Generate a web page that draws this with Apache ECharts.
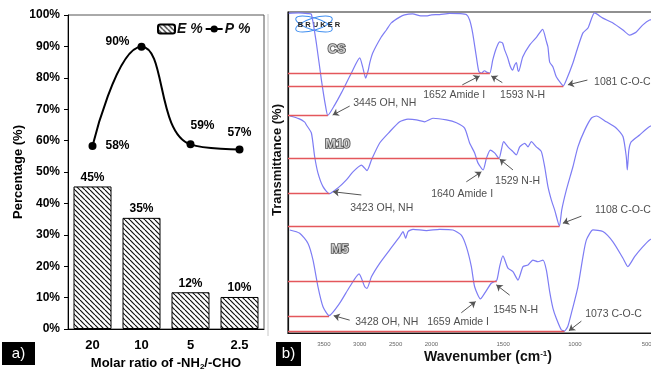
<!DOCTYPE html>
<html>
<head>
<meta charset="utf-8">
<script src="https://cdn.jsdelivr.net/npm/echarts@6/dist/echarts.min.js"></script>
<style>
  html, body { margin: 0; padding: 0; background: #fff; }
  #chart { width: 651px; height: 369px; }
</style>
</head>
<body>
<div id="chart"></div>
<script>
// panel a) yield bars and line
const ratios = ['20', '10', '5', '2.5'];
const ePercent = [45.4, 35.4, 11.7, 10.2];
const pPercent = [58.3, 89.9, 58.8, 57.2];

// panel b) FTIR spectra, [wavenumber, transmittance]
const wnTicks = [3500, 3000, 2500, 2000, 1500, 1000, 500];

const csSpectrum = [
  [3990, 99.6], [3850, 99.7], [3720, 99.5], [3674, 99.3], [3604, 90.2], [3534, 78.8],
  [3475, 70.5], [3445, 67.8], [3350, 71.0], [3256, 74.8], [3116, 81.0], [3000, 85.7],
  [2960, 83.0], [2917, 79.4], [2880, 82.0], [2861, 84.1], [2819, 87.2], [2700, 92.2],
  [2628, 94.4], [2560, 96.6], [2443, 98.4], [2375, 99.1], [2262, 99.4], [2150, 98.8],
  [2071, 98.8], [2000, 99.1], [1943, 99.2], [1873, 99.6], [1800, 99.5], [1757, 99.2],
  [1734, 97.5], [1713, 93.5], [1687, 86.0], [1670, 81.5], [1652, 80.9], [1630, 81.7],
  [1612, 81.2], [1593, 81.0], [1573, 85.0], [1550, 88.5], [1525, 90.7], [1504, 90.3],
  [1490, 88.2], [1469, 85.8], [1450, 83.0], [1434, 81.9], [1420, 83.5], [1408, 84.2],
  [1398, 82.0], [1392, 81.5], [1364, 86.0], [1316, 89.7], [1267, 92.2], [1225, 94.6],
  [1200, 91.0], [1188, 89.1], [1176, 84.4], [1153, 82.9], [1130, 79.8], [1095, 77.6],
  [1081, 77.0], [1060, 78.8], [1014, 84.1], [979, 89.1], [944, 93.5], [909, 95.0],
  [863, 99.7], [805, 98.1], [735, 96.6], [665, 94.4], [619, 92.8], [572, 93.8],
  [526, 96.0], [479, 97.5], [400, 98.5]
];
const m10Spectrum = [
  [3976, 67.6], [3850, 66.8], [3767, 65.7], [3743, 64.8], [3674, 62.3], [3628, 54.9],
  [3582, 49.8], [3512, 45.6], [3423, 43.4], [3303, 45.2], [3186, 47.7], [3094, 50.2],
  [2977, 52.3], [2899, 50.6], [2837, 53.9], [2722, 59.2], [2582, 62.7], [2443, 65.8],
  [2327, 66.6], [2210, 66.4], [2094, 65.8], [1990, 66.9], [1896, 66.4], [1826, 65.5],
  [1769, 63.8], [1734, 59.2], [1699, 56.1], [1676, 53.0], [1640, 50.8], [1617, 54.4],
  [1590, 57.0], [1560, 56.1], [1529, 54.4], [1513, 57.0], [1497, 59.6], [1467, 58.0],
  [1432, 56.5], [1408, 55.5], [1385, 58.0], [1350, 59.1], [1327, 58.0], [1304, 59.6],
  [1269, 58.0], [1234, 56.5], [1211, 51.8], [1188, 45.6], [1164, 41.4], [1141, 38.3],
  [1108, 33.3], [1092, 38.3], [1060, 44.5], [1014, 51.8], [979, 58.0], [932, 63.2],
  [886, 66.9], [851, 67.6], [781, 65.8], [711, 63.8], [665, 61.2], [642, 54.9],
  [635, 50.8], [624, 57.0], [607, 59.6], [549, 61.7], [479, 64.3], [400, 65.5]
];
const m5Spectrum = [
  [3976, 32.1], [3837, 31.1], [3721, 27.9], [3651, 22.7], [3582, 14.4], [3512, 8.2],
  [3428, 5.4], [3279, 9.3], [3140, 14.4], [3010, 18.4], [2930, 14.4], [2899, 13.9],
  [2837, 17.5], [2722, 21.7], [2582, 25.9], [2443, 30.0], [2397, 31.6], [2359, 29.5],
  [2327, 31.6], [2257, 32.3], [2071, 31.9], [1943, 32.3], [1850, 32.1], [1792, 30.5],
  [1757, 26.9], [1722, 20.7], [1699, 14.4], [1659, 10.6], [1629, 12.4], [1583, 15.5],
  [1545, 16.4], [1525, 20.7], [1502, 24.0], [1467, 20.2], [1432, 19.1], [1397, 16.5],
  [1362, 20.7], [1327, 21.2], [1293, 22.7], [1258, 22.2], [1223, 22.7], [1199, 19.6],
  [1176, 12.9], [1153, 7.7], [1130, 4.6], [1095, 1.0], [1073, 0.6], [1050, 2.0],
  [1025, 6.1], [979, 14.4], [944, 23.8], [920, 29.0], [874, 32.1], [805, 31.6],
  [735, 28.4], [665, 23.3], [631, 20.7], [584, 23.8], [526, 26.9], [479, 29.0], [400, 30.5]
];

// red guide lines: [transmittance, wavenumber where it stops]
const csBaselines = [[81.0, 1593], [77.0, 1081], [67.8, 3445]];
const m10Baselines = [[54.4, 1529], [43.4, 3423], [33.3, 1108]];
const m5Baselines = [[16.2, 1545], [5.3, 3428], [0.6, 1073]];

// peak notes: text, label anchor (w, T), arrow tail (w, T), arrow head (w, T)
const peakNotes = [
  ['3445 OH, NH', 3098, 71.7, 3140, 70.7, 3377, 67.9],
  ['1652 Amide I', 2122, 74.0, 1785, 77.3, 1664, 80.1],
  ['1593 N-H', 1525, 74.0, 1506, 78.0, 1583, 80.1],
  ['1081 C-O-C', 870, 78.2, 913, 78.8, 1049, 77.3],
  ['3423 OH, NH', 3140, 38.9, 2977, 43.0, 3373, 44.0],
  ['1640 Amide I', 2011, 43.3, 1757, 47.1, 1652, 50.2],
  ['1529 N-H', 1560, 47.4, 1432, 50.8, 1525, 54.2],
  ['1108 C-O-C', 863, 38.3, 955, 36.4, 1084, 34.2],
  ['3428 OH, NH', 3070, 3.4, 3140, 4.0, 3363, 5.4],
  ['1659 Amide I', 2067, 3.4, 1792, 6.3, 1692, 9.8],
  ['1545 N-H', 1573, 7.2, 1455, 11.8, 1548, 15.0],
  ['1073 C-O-C', 932, 5.9, 955, 3.7, 1042, 0.7]
];
const sampleNames = [['CS', 3321, 88.2], ['M10', 3307, 58.6], ['M5', 3279, 25.9]];

// the spectrum axis is compressed by 2 above 2000 cm-1
function toU(w) { return w > 2000 ? 2000 + (w - 2000) / 2 : w; }
function fromU(u) { return u > 2000 ? 2000 + (u - 2000) * 2 : u; }

function hatch() {
  const c = document.createElement('canvas');
  c.width = 5; c.height = 5;
  const g = c.getContext('2d');
  g.fillStyle = '#fff';
  g.fillRect(0, 0, 5, 5);
  g.strokeStyle = '#111';
  g.lineWidth = 1.2;
  [-5, 0, 5].forEach(k => {
    g.beginPath(); g.moveTo(k, 0); g.lineTo(k + 5, 5); g.stroke();
  });
  return c;
}

const FONT = 'Liberation Sans';
const BLUE = '#7d7cf4';
const RED = '#e4575c';

function spectrumSeries(name, data, baselines) {
  return {
    name: name,
    type: 'line',
    xAxisIndex: 1,
    yAxisIndex: 1,
    data: data.map(p => [toU(p[0]), p[1]]),
    smooth: 0.2,
    symbol: 'none',
    silent: true,
    lineStyle: { color: BLUE, width: 1.2 },
    markLine: {
      silent: true,
      symbol: ['none', 'none'],
      label: { show: false },
      lineStyle: { color: RED, width: 1.4, type: 'solid' },
      data: baselines.map(b => [{ coord: [toU(4000), b[0]] }, { coord: [toU(b[1]), b[0]] }])
    }
  };
}

const pLabels = [
  { position: 'right', distance: 9 },
  { position: 'left', distance: 8, offset: [0, -5] },
  { position: 'top', distance: 9, offset: [12, 0] },
  { position: 'top', distance: 7 }
];

const chart = echarts.init(document.getElementById('chart'));
chart.setOption({
  animation: false,
  textStyle: { fontFamily: FONT },
  legend: {
    data: ['E %', 'P %'],
    left: 157,
    top: 22,
    padding: 0,
    itemGap: 2,
    itemWidth: 17,
    itemHeight: 9,
    selectedMode: false,
    textStyle: { fontFamily: FONT, fontWeight: 'bold', fontStyle: 'italic', fontSize: 14, color: '#111', padding: [0, 0, 0, -3] }
  },
  grid: [
    { left: 68, top: 15, width: 196, height: 314, show: true, borderColor: '#555', borderWidth: 1, outerBoundsMode: 'none' },
    { left: 288, top: 12, width: 373, height: 321, show: true, borderColor: '#222', borderWidth: 1.2, outerBoundsMode: 'none' }
  ],
  xAxis: [
    {
      gridIndex: 0,
      type: 'category',
      data: ratios,
      axisLine: { lineStyle: { color: '#000', width: 1 } },
      axisTick: { show: false },
      axisLabel: { fontFamily: FONT, fontWeight: 'bold', fontSize: 13, color: '#000', margin: 10 },
      name: 'Molar ratio of -NH{sub|2}/-CHO',
      nameLocation: 'middle',
      nameGap: 27,
      nameTextStyle: {
        fontFamily: FONT, fontWeight: 'bold', fontSize: 13, color: '#000',
        rich: { sub: { fontFamily: FONT, fontWeight: 'bold', fontSize: 8, verticalAlign: 'bottom', padding: [6, 0, 0, 0] } }
      }
    },
    {
      gridIndex: 1,
      type: 'value',
      min: 400,
      max: 3000,
      inverse: true,
      axisLine: { lineStyle: { color: '#111', width: 1.2 } },
      axisTick: { show: false },
      splitLine: { show: false },
      axisLabel: {
        customValues: wnTicks.map(toU),
        formatter: v => String(Math.round(fromU(v))),
        fontFamily: FONT, fontSize: 6, color: '#666', margin: 8
      }
    }
  ],
  yAxis: [
    {
      gridIndex: 0,
      type: 'value',
      min: 0,
      max: 100,
      interval: 10,
      axisLine: { show: true, lineStyle: { color: '#000' } },
      axisTick: { show: true, length: 4, lineStyle: { color: '#000' } },
      splitLine: { show: false },
      axisLabel: { formatter: '{value}%', fontFamily: FONT, fontWeight: 'bold', fontSize: 12, color: '#000', margin: 8 },
      name: 'Percentage (%)',
      nameLocation: 'middle',
      nameRotate: 90,
      nameGap: 43,
      nameTextStyle: { fontFamily: FONT, fontWeight: 'bold', fontSize: 13, color: '#000' }
    },
    {
      gridIndex: 1,
      type: 'value',
      min: 0,
      max: 100,
      axisLine: { show: true, lineStyle: { color: '#111', width: 1.2 } },
      axisTick: { show: false },
      axisLabel: { show: false },
      splitLine: { show: false }
    }
  ],
  series: [
    {
      name: 'E %',
      type: 'bar',
      data: ePercent,
      barWidth: 38,
      itemStyle: { color: { image: hatch(), repeat: 'repeat' }, borderColor: '#000', borderWidth: 1 },
      label: {
        show: true, position: 'top', distance: 3,
        formatter: p => Math.round(p.value) + '%',
        fontFamily: FONT, fontWeight: 'bold', fontSize: 12, color: '#000'
      }
    },
    {
      name: 'P %',
      type: 'line',
      data: pPercent.map((v, i) => ({ value: v, label: pLabels[i] })),
      smooth: 0.5,
      symbol: 'circle',
      symbolSize: 8,
      itemStyle: { color: '#000' },
      lineStyle: { color: '#000', width: 2 },
      label: {
        show: true,
        formatter: p => Math.round(p.value) + '%',
        fontFamily: FONT, fontWeight: 'bold', fontSize: 12, color: '#000'
      },
      z: 5
    },
    spectrumSeries('CS', csSpectrum, csBaselines),
    spectrumSeries('M10', m10Spectrum, m10Baselines),
    spectrumSeries('M5', m5Spectrum, m5Baselines),
    {
      name: 'notes',
      type: 'scatter',
      xAxisIndex: 1,
      yAxisIndex: 1,
      silent: true,
      symbolSize: 1,
      itemStyle: { color: 'rgba(0,0,0,0)' },
      data: peakNotes.map(n => ({ name: n[0], value: [toU(n[1]), n[2]] })),
      label: { show: true, position: 'right', distance: 0, formatter: '{b}', fontFamily: FONT, fontSize: 10.5, color: '#222' },
      markLine: {
        silent: true,
        symbol: ['none', 'arrow'],
        symbolSize: 6,
        label: { show: false },
        lineStyle: { color: '#555', width: 1, type: 'solid' },
        data: peakNotes.map(n => [{ coord: [toU(n[3]), n[4]] }, { coord: [toU(n[5]), n[6]] }])
      }
    },
    {
      name: 'samples',
      type: 'scatter',
      xAxisIndex: 1,
      yAxisIndex: 1,
      silent: true,
      symbolSize: 1,
      itemStyle: { color: 'rgba(0,0,0,0)' },
      data: sampleNames.map(n => ({ name: n[0], value: [toU(n[1]), n[2]] })),
      label: {
        show: true, position: 'inside', formatter: '{b}',
        fontFamily: FONT, fontWeight: 'bold', fontSize: 13, color: '#e6e6e6',
        textBorderColor: '#222', textBorderWidth: 1.6
      }
    }
  ],
  graphic: [
    { type: 'line', shape: { x1: 268, y1: 14, x2: 268, y2: 336 }, style: { stroke: '#c8c8c8', lineWidth: 1 }, silent: true },
    { type: 'rect', shape: { x: 2, y: 342, width: 33, height: 23 }, style: { fill: '#000' }, silent: true },
    { type: 'text', x: 18.5, y: 353.5, style: { text: 'a)', fill: '#fff', font: '15px "Liberation Sans"', textAlign: 'center', textVerticalAlign: 'middle' }, silent: true },
    { type: 'rect', shape: { x: 276, y: 342, width: 25, height: 24 }, style: { fill: '#000' }, silent: true },
    { type: 'text', x: 288.5, y: 354, style: { text: 'b)', fill: '#fff', font: '15px "Liberation Sans"', textAlign: 'center', textVerticalAlign: 'middle' }, silent: true },
    { type: 'text', x: 277, y: 160, rotation: Math.PI / 2, style: { text: 'Transmittance (%)', fill: '#111', font: 'bold 13px "Liberation Sans"', textAlign: 'center', textVerticalAlign: 'middle' }, silent: true },
    {
      type: 'text', x: 488, y: 357, silent: true,
      style: {
        text: 'Wavenumber (cm{sup|-1})', fill: '#111', font: 'bold 14px "Liberation Sans"', textAlign: 'center', textVerticalAlign: 'middle',
        rich: { sup: { fontFamily: FONT, fontWeight: 'bold', fontSize: 8, verticalAlign: 'top', padding: [0, 0, 6, 0] } }
      }
    },
    { type: 'ellipse', x: 314, y: 24, rotation: 0.3, shape: { cx: 0, cy: 0, rx: 19, ry: 6 }, style: { fill: 'none', stroke: '#3f8ef0', lineWidth: 1 }, silent: true },
    { type: 'ellipse', x: 314, y: 24, rotation: -0.3, shape: { cx: 0, cy: 0, rx: 19, ry: 6 }, style: { fill: 'none', stroke: '#3f8ef0', lineWidth: 1 }, silent: true },
    { type: 'text', x: 319, y: 24.5, style: { text: 'B R U K E R', fill: '#222', font: 'bold 7.5px "Liberation Sans"', textAlign: 'center', textVerticalAlign: 'middle' }, silent: true }
  ]
});
</script>
</body>
</html>
